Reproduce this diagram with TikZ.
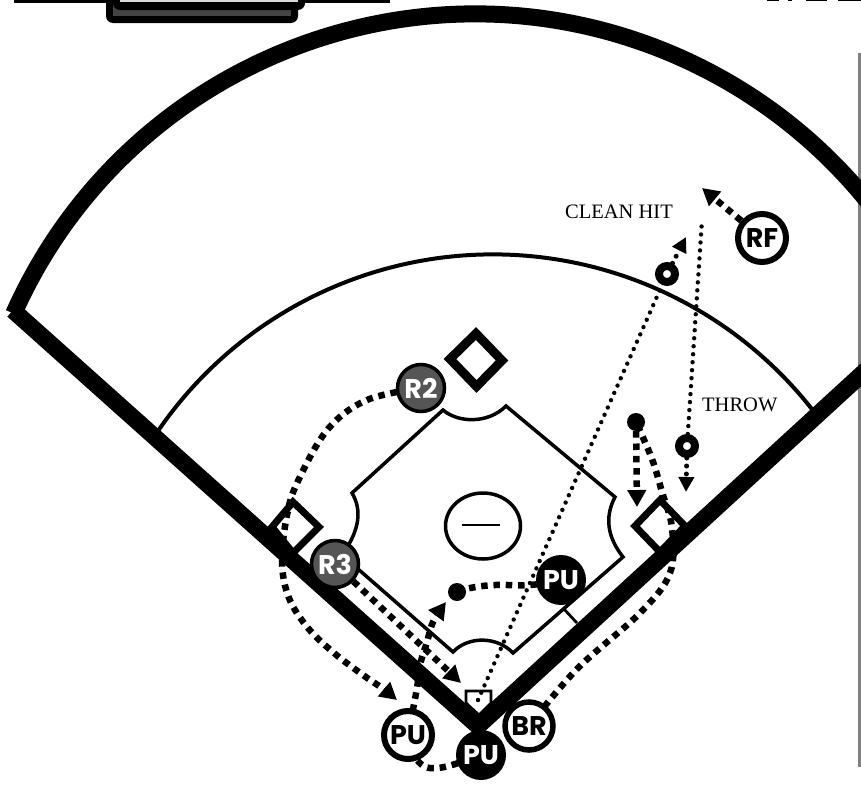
\documentclass[tikz,border=0pt]{standalone}
\usepackage{fontspec}
\setmainfont{Liberation Serif}
\newfontfamily\lab{Poppins}
\usetikzlibrary{arrows.meta,shapes.geometric}
\pgfdeclarelayer{fg}
\pgfsetlayers{main,fg}
\definecolor{rungray}{HTML}{555555}
\tikzset{
  tok/.style={circle,inner sep=0pt,font=\lab\bfseries\fontsize{27}{27}\selectfont},
  blacktok/.style={tok,fill=black,text=white,minimum size=50pt},
  graytok/.style={tok,fill=rungray,draw=black,line width=3.5pt,text=white,minimum size=47pt},
  whitetok/.style={tok,fill=white,draw=black,line width=6pt,text=black,minimum size=48pt},
  balldot/.style={circle,fill=black,inner sep=0pt,minimum size=18pt},
  ringdot/.style={circle,fill=white,draw=black,line width=8pt,inner sep=0pt,minimum size=16pt},
  basebox/.style={draw=black,fill=white,line width=7pt,line join=miter},
  thick line/.style={draw=black,line width=17pt,line join=miter,line cap=butt},
  dirt/.style={draw=black,line width=3.5pt,line join=miter},
  run/.style={draw=black,line width=6.5pt,dash pattern=on 6.5pt off 5.8pt},
  hit/.style={draw=black,line width=4.4pt,line cap=round,dash pattern=on 0pt off 8pt},
  tip/.style={-{Triangle[length=17pt,width=18pt]}},
  smalltip/.style={-{Triangle[length=15pt,width=15pt]}},
  call/.style={font=\fontsize{20.5}{20.5}\selectfont,inner sep=0pt,anchor=base west},
}
\begin{document}
\begin{tikzpicture}[x=1pt,y=-1pt]
\useasboundingbox (0,0) rectangle (861,787);
\clip (0,0) rectangle (861,787);
\fill[white] (0,0) rectangle (861,787);
% clipped material at the top edge
\fill[black] (14,-5) rectangle (390,2.5);
\fill[black,rounded corners=7pt] (106,-20) rectangle (298,23);
\fill[rungray!80!black] (113,-20) rectangle (291,16);
\fill[black,rounded corners=7pt] (113,-20) rectangle (305,10);
\fill[black!15] (120,-20) rectangle (298,2);
\fill[black] (767,-3) rectangle (779,1);
\fill[black] (788,-3) rectangle (792,1);
\fill[black] (806,-3) rectangle (827,1);
\fill[black] (838,-3) rectangle (861,1);
% right rule
\fill[black!50] (858,53) rectangle (860.5,767);
% infield grass arc
\coordinate (arcL) at (158,431);
\draw[black,line width=4pt] (arcL) arc[start angle=145.6,end angle=37.6,radius=406pt];
% dirt outline
\coordinate (dA) at (352,493);
\coordinate (dB) at (443,410);
\coordinate (dC) at (506,406);
\coordinate (dD) at (615,497);
\coordinate (dE) at (623,557);
\coordinate (dF) at (513,653);
\coordinate (dG) at (453,652);
\coordinate (dH) at (342,555);
\draw[dirt] (dA) -- (dB) .. controls (458,423) and (488,424) .. (dC) -- (dD)
  .. controls (604,518) and (608,538) .. (dE) -- (dF)
  .. controls (497,636) and (468,636) .. (dG) -- (dH)
  .. controls (360,530) and (362,510) .. (dA) -- cycle;
\coordinate (tick1) at (563,608);
\coordinate (tick2) at (577,623);
\draw[black,line width=2.8pt] (tick1) -- (tick2);
% mound
\node[draw=black,line width=3.5pt,ellipse,minimum width=75pt,minimum height=66pt,inner sep=0pt] (mound) at (483,526) {};
\coordinate (rubL) at (462,525);
\coordinate (rubR) at (500,525);
\draw[black,line width=1.8pt] (rubL) -- (rubR);
% bases
\path[basebox,line width=9pt] (476,333.5) -- (502,360.5) -- (476.5,386.5) -- (450,359) -- cycle;
\path[basebox] (293,502) -- (319,527) -- (293,553) -- (272,527) -- cycle;
\path[basebox] (660,500) -- (685,526) -- (660,552) -- (635,526) -- cycle;
% home plate
\path[draw=black,fill=white,line width=2.8pt,line join=miter] (466,691) -- (491,691) -- (491,703) -- (479,715) -- (466,703) -- cycle;
\coordinate (homeDot) at (478,700);
\fill[black] (homeDot) circle (2pt);
% foul lines and fence
\coordinate (foulL) at (13,310.3);
\coordinate (home) at (478,726);
\coordinate (foulR) at (875,362);
\draw[thick line] (foulL) -- (home) -- (foulR);
\coordinate (fenceL) at (13.7,313.6);
\draw[thick line] (fenceL) arc[start angle=156,end angle=33,radius=505pt];
% tokens
\begin{pgfonlayer}{fg}
\node[graytok] (R2) at (421,388) {R2};
\node[graytok] (R3) at (335,564) {R3};
\node[blacktok] (PUc) at (481,755) {PU};
\node[blacktok] (PUp) at (561,580) {PU};
\node[whitetok] (PUw) at (408,735) {PU};
\node[whitetok,line width=5.5pt] (BR) at (529,726) {BR};
\node[whitetok] (RF) at (762,238) {RF};
\node[balldot] (ballA) at (457,592) {};
\node[balldot] (ballB) at (636,422) {};
\node[ringdot] (ringA) at (667,274) {};
\node[ringdot] (ringB) at (687,446) {};
\node[call] (clean) at (565,218) {CLEAN HIT};
\node[call] (throw) at (702,411) {THROW};
\end{pgfonlayer}
% runner paths
\coordinate (tipA) at (397,700);
\draw[run,tip] plot[smooth,tension=.6] coordinates {(R2) (367,400) (328,429) (298,481) (287,515) (282,562) (289,598) (308,628) (334,653) (363,675) (382,688) (tipA)};
\coordinate (tipB) at (461,683);
\draw[run,tip] (R3) -- (tipB);
\coordinate (tipC) at (446,602);
\draw[run,tip] plot[smooth,tension=.6] coordinates {(PUw) (417,688) (420,665) (427,642) (433,622) (tipC)};
\draw[run] plot[smooth,tension=.7] coordinates {(PUp) (530,585) (495,585) (470,588) (ballA)};
\draw[run] plot[smooth,tension=.7] coordinates {(PUc) (438,768) (417,760) (PUw)};
\draw[run] plot[smooth,tension=.6] coordinates {(BR) (577,669) (640,613) (670,573) (672,528) (662,492) (652,459) (ballB)};
\coordinate (tipD) at (637,507);
\draw[run,tip] (ballB) -- (tipD);
\coordinate (tipE) at (702,188);
\draw[run,tip] (RF) -- (tipE);
% ball flight
\coordinate (tipF) at (686,237);
\coordinate (tipG) at (686,492);
\coordinate (throwEnd) at (702,220);
\draw[hit] (homeDot) -- (ringA);
\draw[hit,line width=5pt,smalltip] (ringA) -- (tipF);
\draw[hit] (ringB) -- (throwEnd);
\draw[hit,line width=5pt,smalltip] (ringB) -- (tipG);
\end{tikzpicture}
\end{document}
